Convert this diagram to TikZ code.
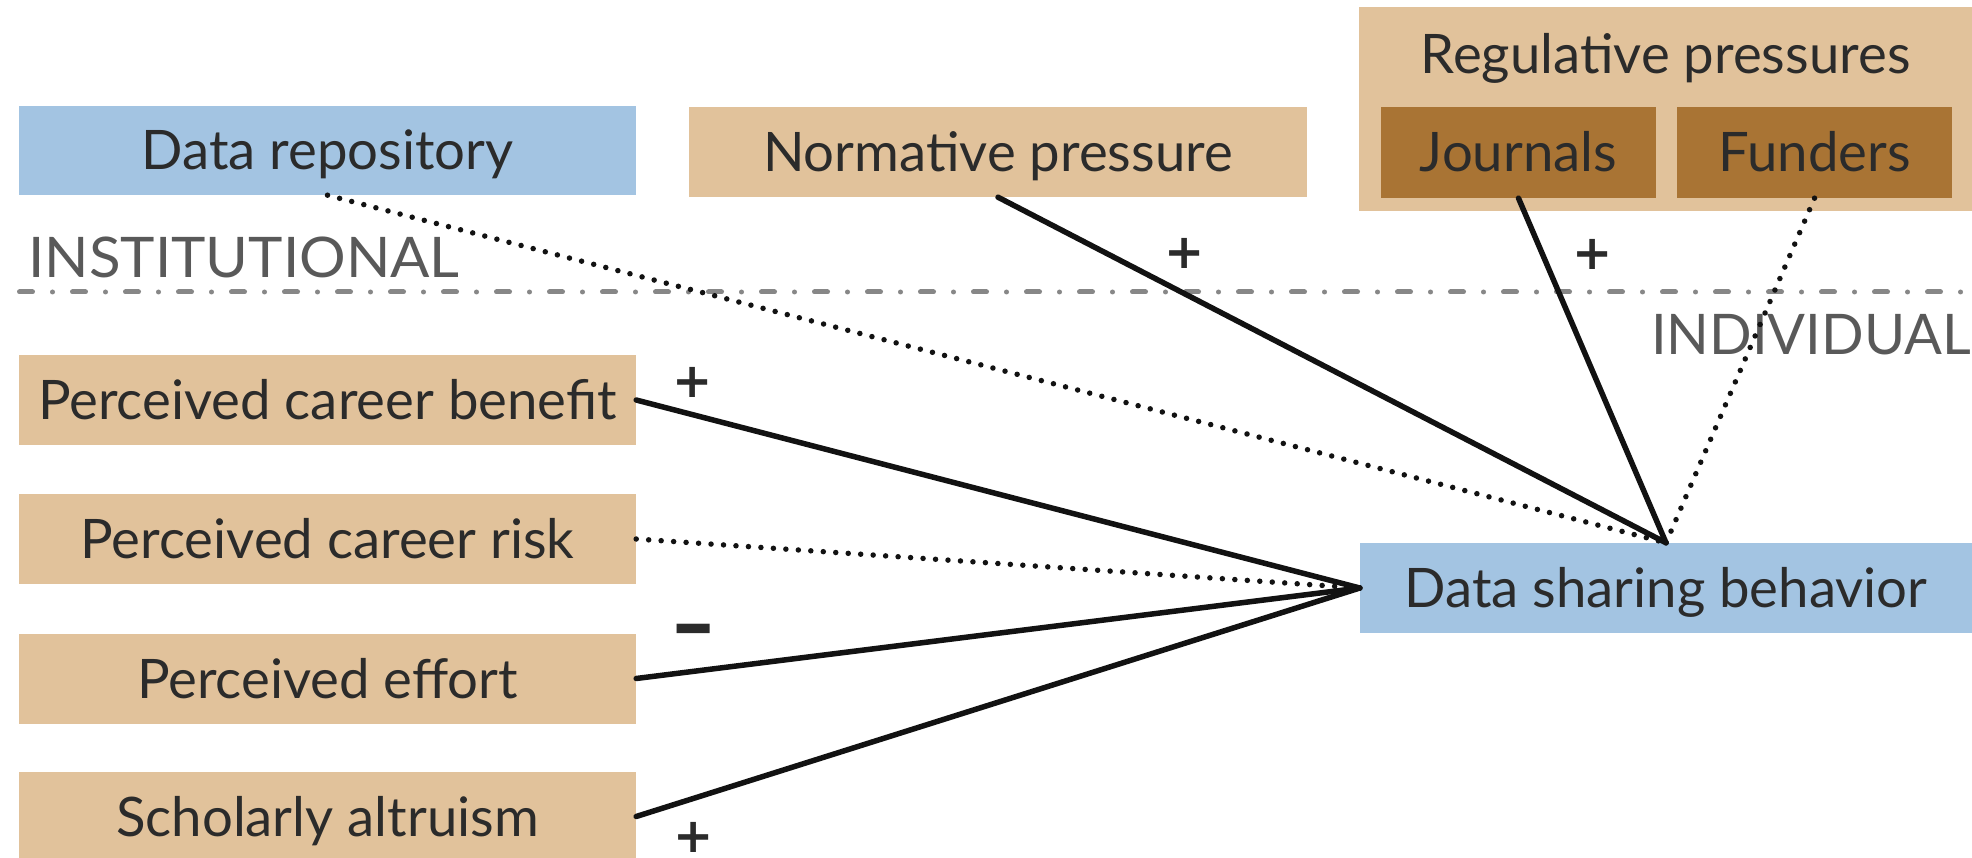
\documentclass[tikz,border=0pt]{standalone}
\usepackage{fontspec}
\setmainfont{Lato}
\newfontfamily\signfont{DejaVu Sans}
\definecolor{tanfill}{HTML}{E1C29B}
\definecolor{bluefill}{HTML}{A3C4E2}
\definecolor{brownfill}{HTML}{A97434}
\definecolor{inktext}{HTML}{2B2B2B}
\definecolor{levelgray}{HTML}{595959}
\definecolor{sepgray}{HTML}{878787}
\tikzset{
  boxbase/.style={rectangle, inner sep=0pt, text=inktext,
    font=\fontsize{54.5}{60}\selectfont, text height=39pt, text depth=0pt},
  tanbox/.style={boxbase, fill=tanfill},
  bluebox/.style={boxbase, fill=bluefill},
  brownbox/.style={boxbase, fill=brownfill},
  levellabel/.style={inner sep=0pt, text=levelgray, font=\fontsize{56}{60}\selectfont},
  sign/.style={inner sep=0pt, text=inktext, font=\signfont\fontsize{48}{48}\selectfont\bfseries},
  solidlink/.style={draw=black!93, line width=5.5pt, line cap=round},
  dottedlink/.style={draw=black!93, line width=5.5pt, line cap=round, dash pattern=on 0pt off 12.5pt},
  separator/.style={draw=sepgray, line width=5pt, line cap=round, dash pattern=on 13pt off 20pt on 0pt off 20pt}
}
\begin{document}
\begin{tikzpicture}[x=1pt,y=-1pt]
\useasboundingbox (0,0) rectangle (1972,858);

% level separator
\coordinate (sepL) at (19.5,292);
\coordinate (sepR) at (1972,292);
\draw[separator] (sepL) -- (sepR);
\node[levellabel, anchor=base west] (inst) at (28,278) {\scalebox{1.04}[1]{INSTITUTIONAL}};
\node[levellabel, anchor=base west] (indiv) at (1651,355) {INDIVIDUAL};

% institutional factors
\node[bluebox, minimum width=617pt, minimum height=89pt] (repo) at (327.5,150.5) {Data repository};
\node[tanbox, minimum width=618pt, minimum height=90pt] (norm) at (998,152) {Normative pressure};
\node[tanbox, minimum width=613pt, minimum height=204pt] (reg) at (1665.5,109) {};
\node[inner sep=0pt, text=inktext, font=\fontsize{54.5}{60}\selectfont, anchor=base] (regtitle) at (1665.5,74) {Regulative pressures};
\node[brownbox, minimum width=275pt, minimum height=91pt] (journals) at (1518.5,152.5) {Journals};
\node[brownbox, minimum width=275pt, minimum height=91pt] (funders) at (1814.5,152.5) {Funders};

% individual factors
\node[tanbox, minimum width=617pt, minimum height=90pt] (benefit) at (327.5,400) {Perceived career benefit};
\node[tanbox, minimum width=617pt, minimum height=90pt] (risk) at (327.5,539) {Perceived career risk};
\node[tanbox, minimum width=617pt, minimum height=90pt] (effort) at (327.5,678.5) {Perceived effort};
\node[tanbox, minimum width=617pt, minimum height=90pt] (altruism) at (327.5,816.5) {Scholarly altruism};

% outcome
\node[bluebox, minimum width=612pt, minimum height=90pt] (sharing) at (1666,588) {Data sharing behavior};

% links
\draw[dottedlink] (repo.south) -- (sharing.north);
\draw[solidlink] (norm.south) -- (sharing.north);
\draw[solidlink] (journals.south) -- (sharing.north);
\draw[dottedlink] (funders.south) -- (sharing.north);
\draw[solidlink] (benefit.east) -- (sharing.west);
\draw[dottedlink] (risk.east) -- (sharing.west);
\draw[solidlink] (effort.east) -- (sharing.west);
\draw[solidlink] (altruism.east) -- (sharing.west);

% signs
\node[sign] (snorm) at (1185,253) {+};
\node[sign] (sjour) at (1593,254) {+};
\node[sign] (sbenefit) at (693,382) {+};
\node[sign] (seffort) at (694,639) {\scalebox{1.1}[1.7]{−}};
\node[sign] (saltru) at (694,837) {+};
\end{tikzpicture}
\end{document}
